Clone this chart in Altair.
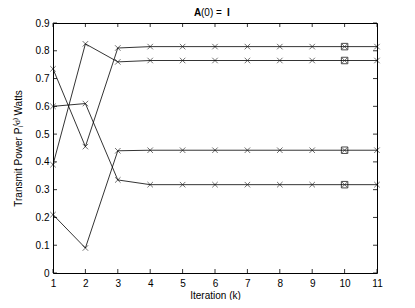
import altair as alt
import pandas as pd

iterations = [1, 2, 3, 4, 5, 6, 7, 8, 9, 10, 11]
series_a = [0.735, 0.455, 0.810, 0.815, 0.815, 0.815, 0.815, 0.815, 0.815, 0.815, 0.815]
series_b = [0.390, 0.825, 0.760, 0.765, 0.765, 0.765, 0.765, 0.765, 0.765, 0.765, 0.765]
series_c = [0.600, 0.610, 0.335, 0.318, 0.318, 0.318, 0.318, 0.318, 0.318, 0.318, 0.318]
series_d = [0.210, 0.090, 0.440, 0.442, 0.442, 0.442, 0.442, 0.442, 0.442, 0.442, 0.442]
square_at = 10
x_ticks = [1, 2, 3, 4, 5, 6, 7, 8, 9, 10, 11]
y_ticks = [0, 0.1, 0.2, 0.3, 0.4, 0.5, 0.6, 0.7, 0.8, 0.9]

rows = []
for name, vals in [("a", series_a), ("b", series_b), ("c", series_c), ("d", series_d)]:
    for k, v in zip(iterations, vals):
        rows.append({"series": name, "k": k, "p": v})
df = pd.DataFrame(rows)
sq = df[df["k"] == square_at]

W, H = 324, 250
FONT = "Liberation Sans"

xs = alt.Scale(domain=[1, 11], nice=False, zero=False)
ys = alt.Scale(domain=[0, 0.9], nice=False)

xax = alt.Axis(values=x_ticks, format="d", tickSize=0, labelPadding=5, domain=False, grid=False,
               labelOverlap=False, labelFlush=False, title="Iteration (k)", titlePadding=2, labelFont=FONT, titleFont=FONT,
               labelFontSize=10, titleFontSize=10, titleFontWeight="normal", labelColor="black", titleColor="black")
yax = alt.Axis(values=y_ticks, format=".1~f", tickSize=0, labelPadding=4, domain=False, grid=False,
               labelOverlap=False, labelFlush=False, title="Transmit Power P\u1d62\u207d\u1d48\u207e Watts", titlePadding=12,
               labelFont=FONT, titleFont=FONT,
               labelFontSize=10, titleFontSize=10, titleFontWeight="normal", labelColor="black", titleColor="black")

base = alt.Chart(df)
lines = base.mark_line(color="black", strokeWidth=0.8).encode(
    x=alt.X("k:Q", scale=xs, axis=xax),
    y=alt.Y("p:Q", scale=ys, axis=yax),
    detail="series:N",
)
cross_path = "M-1,-1L1,1M-1,1L1,-1"
pts = base.mark_point(shape=cross_path, filled=False, color="black", size=30, strokeWidth=0.8).encode(
    x=alt.X("k:Q", scale=xs, axis=xax), y=alt.Y("p:Q", scale=ys, axis=yax)
)
squares = alt.Chart(sq).mark_point(shape="square", filled=False, color="black", size=42, strokeWidth=1).encode(
    x=alt.X("k:Q", scale=xs, axis=xax), y=alt.Y("p:Q", scale=ys, axis=yax)
)

xt = pd.DataFrame({"t": x_ticks})
yt = pd.DataFrame({"t": y_ticks})
tk = 4
bot = alt.Chart(xt).mark_rule(color="black", strokeWidth=0.8).encode(
    x=alt.X("t:Q", scale=xs, axis=xax), y=alt.value(H), y2=alt.value(H - tk))
top = alt.Chart(xt).mark_rule(color="black", strokeWidth=0.8).encode(
    x=alt.X("t:Q", scale=xs, axis=xax), y=alt.value(0), y2=alt.value(tk))
left = alt.Chart(yt).mark_rule(color="black", strokeWidth=0.8).encode(
    y=alt.Y("t:Q", scale=ys, axis=yax), x=alt.value(0), x2=alt.value(tk))
right = alt.Chart(yt).mark_rule(color="black", strokeWidth=0.8).encode(
    y=alt.Y("t:Q", scale=ys, axis=yax), x=alt.value(W - tk), x2=alt.value(W))

ty = -7
t1 = alt.Chart(pd.DataFrame({"s": ["A"]})).mark_text(font=FONT, fontSize=10, fontWeight="bold", align="left", baseline="alphabetic", color="black").encode(
    text="s:N", x=alt.value(141), y=alt.value(ty))
t2 = alt.Chart(pd.DataFrame({"s": ["(0) ="]})).mark_text(font=FONT, fontSize=10, align="left", baseline="alphabetic", color="black").encode(
    text="s:N", x=alt.value(148), y=alt.value(ty))
t3 = alt.Chart(pd.DataFrame({"s": ["I"]})).mark_text(font=FONT, fontSize=10, fontWeight="bold", align="left", baseline="alphabetic", color="black").encode(
    text="s:N", x=alt.value(174), y=alt.value(ty))

chart = alt.layer(lines, pts, squares, bot, top, left, right, t1, t2, t3).properties(
    width=W, height=H,
    autosize=alt.AutoSizeParams(type="none"),
    padding={"left": 45, "top": 15, "right": 30, "bottom": 27},
    background="white",
).configure_view(stroke="black", strokeWidth=1).configure_axis(labelOverlap=False)

chart.save("out.html", embed_options={"renderer": "svg", "actions": False})
